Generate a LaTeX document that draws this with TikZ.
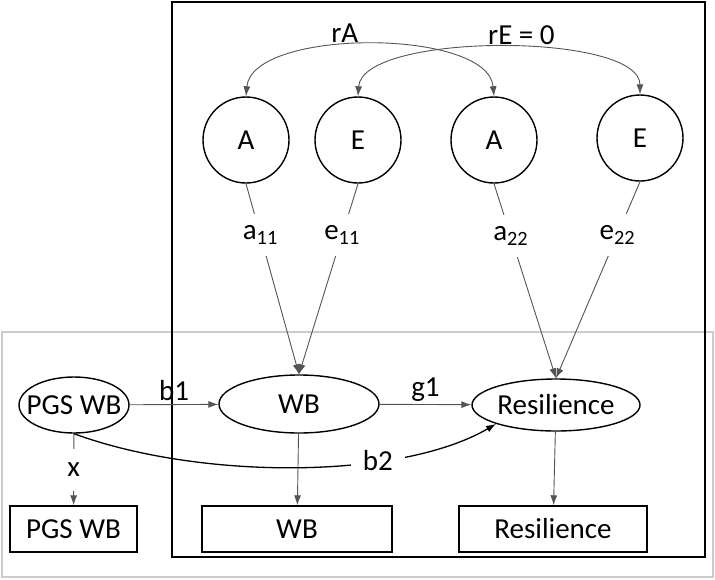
\documentclass[tikz,border=0pt]{standalone}
\usepackage{fontspec}
\setmainfont{Carlito}
\usepackage{tikz}
\usetikzlibrary{positioning, shapes, calc, arrows.meta}
\definecolor{linegray}{rgb}{0.33, 0.33, 0.33}
\definecolor{framegray}{rgb}{0.80, 0.80, 0.80}

\begin{document}
\begin{tikzpicture}[x=1pt, y=-1pt, >={Latex[length=10pt, width=7pt]},
	every node/.style={font=\fontsize{29}{34}\selectfont, text=black},
	gen/.style={circle, draw, line width=1.4pt, minimum size=86pt, inner sep=0pt},
	lat/.style={ellipse, draw, line width=1.4pt, inner sep=0pt},
	obs/.style={rectangle, draw, line width=1.4pt, minimum height=46pt, inner sep=0pt},
	arr/.style={->, draw=linegray, line width=0.9pt},
	lab/.style={fill=white, inner xsep=4pt, inner ysep=2pt, minimum height=42pt}]
				\useasboundingbox (0,0) rectangle (715,579);
				%% frames
				\draw [framegray, line width=1.5pt] (2,332) rectangle (713,577);
				\draw [line width=2pt] (172,2) rectangle (705,557);
				
				\node [gen] (A1) at (246,140) {A};
				\node [gen] (E1) at (358,140) {E};
				\node [gen] (A2) at (494,140) {A};
				\node [gen] (E2) at (640,138) {E};
				
				\node [lat, minimum width=110pt, minimum height=56pt, inner xsep=-12pt] (PGS) at (74,405) {PGS WB};
				\node [lat, minimum width=160pt, minimum height=58pt] (WB) at (299,404) {WB};
				\node [lat, minimum width=168pt, minimum height=52pt, inner xsep=-6pt] (Res) at (556,405) {Resilience};
				
				\node [obs, minimum width=127pt] (PGSobs) at (73.5,529) {PGS WB};
				\node [obs, minimum width=190pt] (WBobs) at (297,529) {WB};
				\node [obs, minimum width=188pt] (Resobs) at (553,529) {Resilience};
				
				%% correlations between twins
				\draw [linegray, line width=0.9pt, <->] (A1.north) .. controls (252,28) and (488,28) .. node [pos=0.43, above, inner sep=3pt] (rA) {rA} (A2.north);
				\draw [linegray, line width=0.9pt, <->] (E1.north) .. controls (362,32) and (640,32) .. node [pos=0.55, above, inner sep=3pt] (rE) {rE = 0} (E2.north);
				
				\draw [arr] (A1.south) -- node [lab, pos=0.27] (la11) {a\textsubscript{11}} (WB.north);
				\draw [arr] (E1.south) -- node [lab, pos=0.27] (le11) {e\textsubscript{11}} (WB.north);
				\draw [arr] (A2.south) -- node [lab, pos=0.27] (la22) {a\textsubscript{22}} (Res.north);
				\draw [arr] (E2.south) -- node [lab, pos=0.27] (le22) {e\textsubscript{22}} (Res.north);
				
				\draw [arr] (PGS) -- node [above, inner sep=3pt] (lb1) {b1} (WB);
				\draw [arr] (WB) -- node [above, inner sep=3pt] (lg1) {g1} (Res);
				\draw [arr] (PGS) -- node [lab] (lx) {x} (PGSobs);
				\draw [arr] (WB) -- (WBobs);
				\draw [arr] (Res) -- (Resobs);
				\draw [->, line width=1.3pt] (PGS.south) .. controls (200,480) and (400,480) .. node [lab, pos=0.68, inner xsep=12pt] (lb2) {b2} (Res.south west);
\end{tikzpicture}
\end{document}
